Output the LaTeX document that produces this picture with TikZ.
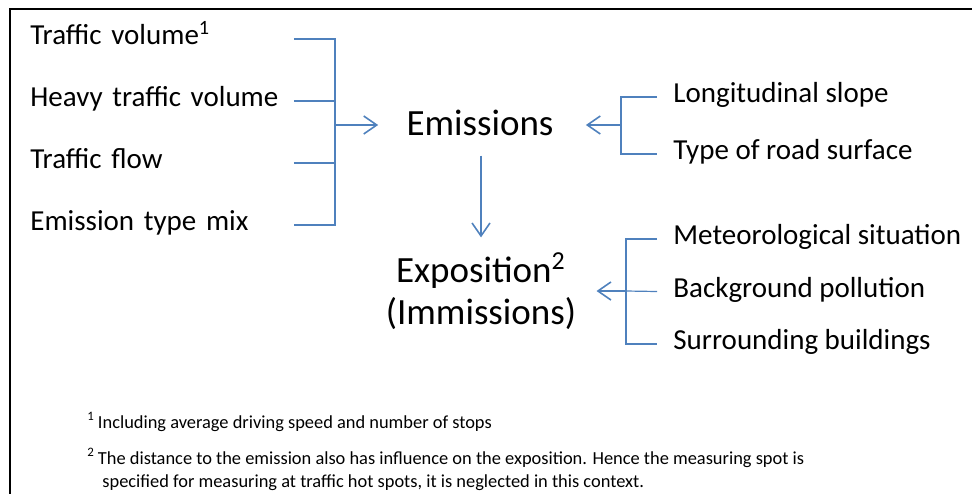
\documentclass[tikz,border=0pt]{standalone}
\usepackage{fontspec}
\setmainfont{Carlito}
\usetikzlibrary{arrows.meta, positioning}
\definecolor{officeblue}{RGB}{79,129,189}
\tikzset{
        link/.style={draw=officeblue, line width=0.6pt}, % thin blue bracket lines
        arrow/.style={link, line width=0.8pt, -{Straight Barb[length=6.5pt, width=9pt]}}, % open arrow heads
        factor/.style={font=\fontsize{14.5}{17}\selectfont, text height=1.5ex, text depth=.25ex,
            inner sep=0pt, text width=131.5pt, align=left, anchor=west}, % left inputs, lines start at their east side
        item/.style={font=\fontsize{14.5}{17}\selectfont, text height=1.5ex, text depth=.25ex,
            inner xsep=8pt, inner ysep=0pt, anchor=west}, % right inputs, lines start at their west side
        effect/.style={font=\fontsize{18.5}{21}\selectfont, align=center, inner sep=0pt}, % the two big words
        note/.style={font=\fontsize{9.2}{11.5}\selectfont, align=left, inner sep=0pt}, % footnotes
    }

\begin{document}
\begin{tikzpicture}[x=0.5pt, y=-0.5pt]
    \useasboundingbox (0,0) rectangle (972,493);
    \draw[line width=1pt] (10,520) |- (990,9);
    % main nodes
    \node[effect, anchor=base] (em) at (480,135) {Emissions};
    \node[effect] (ex) at (481,291) {Exposition\textsuperscript{2}\\(Immissions)};
    % inputs on the left
    \node[factor] (tv) at (30,39) {Traffic volume\textsuperscript{1}};
    \node[factor, below=31pt of tv.west, anchor=west] (htv) {Heavy traffic volume};
    \node[factor, below=31pt of htv.west, anchor=west] (tf) {Traffic flow};
    \node[factor, below=31pt of tf.west, anchor=west] (etm) {Emission type mix};
    % inputs on the right
    \node[item] (ls) at (657,97) {Longitudinal slope};
    \node[item, below=28.5pt of ls.west, anchor=west] (trs) {Type of road surface};
    \node[item] (ms) at (657,239) {Meteorological situation};
    \node[item, below=26.25pt of ms.west, anchor=west] (bp) {Background pollution};
    \node[item, below=26.25pt of bp.west, anchor=west] (sb) {Surrounding buildings};
    % footnotes
    \node[note, anchor=base west] (fn1) at (87,428) {\textsuperscript{1}\,Including average driving speed and number of stops};
    \node[note, anchor=north west] (fn2) at (87,448) {\textsuperscript{2}\,The distance to the emission also has influence on the exposition. Hence the measuring spot is\\
        \hspace*{7.5pt}specified for measuring at traffic hot spots, it is neglected in this context.};
    % bus points of the brackets
    \coordinate (busL) at (335,125);
    \coordinate (busR1) at (621,125);
    \coordinate (busR2) at (626,291);
    \draw[link] (tv.east) -| (busL) |- (etm.east);
    \draw[link] (htv.east) -- (htv.east -| busL);
    \draw[link] (tf.east) -- (tf.east -| busL);
    \draw[arrow, shorten >=14pt] (busL) -- (busL -| em.west);
    \draw[link] (ls.west) -| (busR1) |- (trs.west);
    \draw[arrow, shorten >=16pt] (busR1) -- (busR1 -| em.east);
    \draw[link] (ms.west) -| (busR2) |- (sb.west);
    \draw[link] (bp.west) -- (busR2);
    \draw[arrow, shorten >=10pt] (busR2) -- (busR2 -| ex.east);
    \draw[arrow, shorten <=10pt, shorten >=7.5pt] (ex.north |- em.south) -- (ex.north);
\end{tikzpicture}
\end{document}
